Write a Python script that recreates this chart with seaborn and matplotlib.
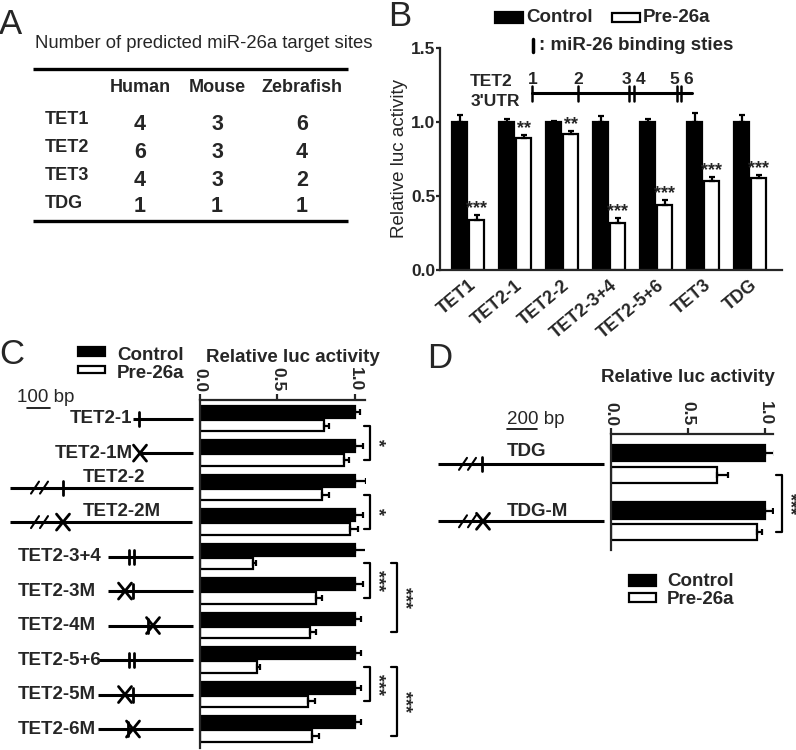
import numpy as np
import pandas as pd
import matplotlib
matplotlib.use("Agg")
import matplotlib.pyplot as plt
from matplotlib.patches import Rectangle
import seaborn as sns

W, H = 796, 750

# ---- panel A: predicted target sites
species = ["Human", "Mouse", "Zebrafish"]
genes_a = ["TET1", "TET2", "TET3", "TDG"]
site_counts = [[4, 3, 6], [6, 3, 4], [4, 3, 2], [1, 1, 1]]

# ---- panel B: 3'UTR reporters
genes_b = ["TET1", "TET2-1", "TET2-2", "TET2-3+4", "TET2-5+6", "TET3", "TDG"]
ctrl_b = [1.0, 1.0, 1.0, 1.0, 1.0, 1.0, 1.0]
ctrl_b_err = [0.05, 0.02, 0.01, 0.04, 0.02, 0.06, 0.05]
pre_b = [0.34, 0.89, 0.92, 0.32, 0.44, 0.60, 0.62]
pre_b_err = [0.03, 0.02, 0.02, 0.03, 0.03, 0.03, 0.02]
stars_b = ["***", "**", "**", "***", "***", "***", "***"]
utr_site_labels = ["1", "2", "3", "4", "5", "6"]

# ---- panel C: TET2 site mutants
constructs_c = ["TET2-1", "TET2-1M", "TET2-2", "TET2-2M", "TET2-3+4",
                "TET2-3M", "TET2-4M", "TET2-5+6", "TET2-5M", "TET2-6M"]
ctrl_c = [1.0, 1.0, 1.0, 1.0, 1.0, 1.0, 1.0, 1.0, 1.0, 1.0]
ctrl_c_err = [0.03, 0.05, 0.07, 0.05, 0.09, 0.05, 0.04, 0.04, 0.04, 0.04]
pre_c = [0.80, 0.93, 0.785, 0.97, 0.34, 0.75, 0.71, 0.37, 0.70, 0.72]
pre_c_err = [0.03, 0.03, 0.05, 0.05, 0.02, 0.04, 0.04, 0.02, 0.04, 0.05]
# (row a, row b, label, bracket level)
comparisons_c = [(0, 1, "*", 0), (2, 3, "*", 0), (4, 5, "***", 0),
                 (4, 6, "***", 1), (7, 8, "***", 0), (7, 9, "***", 1)]

# ---- panel D: TDG site mutant
constructs_d = ["TDG", "TDG-M"]
ctrl_d = [1.0, 1.0]
ctrl_d_err = [0.065, 0.05]
pre_d = [0.69, 0.95]
pre_d_err = [0.07, 0.03]
comparisons_d = [(0, 1, "***", 0)]

GROUPS = ["Control", "Pre-26a"]
PAL = {"Control": "black", "Pre-26a": "white"}

sns.set_style("ticks")
plt.rcParams["font.family"] = ["Liberation Sans", "DejaVu Sans"]
plt.rcParams["axes.linewidth"] = 1.6


def long_df(names, ctrl, pre):
    n = len(names)
    return pd.DataFrame({
        "construct": list(names) * 2,
        "group": ["Control"] * n + ["Pre-26a"] * n,
        "value": list(ctrl) + list(pre),
    })


def px_axes(fig, l, t, r, b):
    return fig.add_axes([l / W, 1 - b / H, (r - l) / W, (b - t) / H])


def to_px(ax, x, y):
    dx, dy = ax.transData.transform((x, y))
    return dx, H - dy


fig = plt.figure(figsize=(W / 100, H / 100), dpi=100)

# ---------------- B
ax_b = px_axes(fig, 440, 48, 782, 270)
sns.barplot(data=long_df(genes_b, ctrl_b, pre_b), x="construct", y="value",
            hue="group", hue_order=GROUPS, palette=PAL, width=0.72, gap=0.1,
            errorbar=None, edgecolor="black", linewidth=1.6, legend=False, ax=ax_b)
for cont, errs in zip(ax_b.containers, [ctrl_b_err, pre_b_err]):
    for bar, e in zip(cont, errs):
        xc = bar.get_x() + bar.get_width() / 2
        ax_b.errorbar(xc, bar.get_height(), yerr=[[0], [e]], fmt="none",
                      ecolor="black", elinewidth=1.6, capsize=2.5, capthick=1.6)
for bar, e, s in zip(ax_b.containers[1], pre_b_err, stars_b):
    xc = bar.get_x() + bar.get_width() / 2
    ax_b.text(xc, bar.get_height() + e + 0.045, s, ha="center", va="center",
              fontsize=13, fontweight="bold")
ax_b.set_xlim(-0.6, 6.68)
ax_b.set_ylim(0, 1.5)
ax_b.set_yticks([0, 0.5, 1.0, 1.5])
ax_b.set_yticklabels(["0.0", "0.5", "1.0", "1.5"], fontweight="bold", fontsize=12.5)
ax_b.tick_params(axis="y", width=1.6, length=3, pad=0.5)
ax_b.tick_params(axis="x", length=0, pad=5)
ax_b.set_xticks(range(len(genes_b)))
ax_b.set_xticklabels(genes_b, rotation=40, ha="right", va="top",
                     rotation_mode="anchor", fontweight="bold", fontsize=13)
ax_b.set_xlabel("")
ax_b.set_ylabel("Relative luc activity", fontsize=13.5, labelpad=2)
sns.despine(ax=ax_b)


def hbar_panel(ax, names, ctrl, ctrl_err, pre, pre_err, width, gap, xmax, ylim):
    sns.barplot(data=long_df(names, ctrl, pre), y="construct", x="value",
                hue="group", hue_order=GROUPS, palette=PAL, orient="h",
                width=width, gap=gap, errorbar=None, edgecolor="black",
                linewidth=1.6, legend=False, ax=ax)
    for cont, errs in zip(ax.containers, [ctrl_err, pre_err]):
        for bar, e in zip(cont, errs):
            yc = bar.get_y() + bar.get_height() / 2
            ax.errorbar(bar.get_width(), yc, xerr=[[0], [e]], fmt="none",
                        ecolor="black", elinewidth=1.6, capsize=2.5, capthick=1.6)
    ax.set_xlim(0, xmax)
    ax.set_ylim(*ylim)
    ax.xaxis.tick_top()
    ax.set_xticks([0, 0.5, 1.0])
    ax.set_xticklabels(["0.0", "0.5", "1.0"], rotation=-90, fontweight="bold",
                       fontsize=12.5, ha="center", va="bottom")
    ax.tick_params(axis="x", width=1.6, length=4, pad=2)
    ax.set_yticks([])
    ax.set_xlabel("")
    ax.set_ylabel("")
    for side in ["bottom", "right"]:
        ax.spines[side].set_visible(False)


# ---------------- C
ax_c = px_axes(fig, 200, 400, 365, 748)
hbar_panel(ax_c, constructs_c, ctrl_c, ctrl_c_err, pre_c, pre_c_err,
           0.8, 0.15, 1.065, (9.55, -0.54))

# ---------------- D
ax_d = px_axes(fig, 611, 434, 773, 550)
hbar_panel(ax_d, constructs_d, ctrl_d, ctrl_d_err, pre_d, pre_d_err,
           0.75, 0.25, 1.052, (1.5, -0.52))

# ---------------- overlay in pixel coordinates
ov = fig.add_axes([0, 0, 1, 1])
ov.set_xlim(0, W)
ov.set_ylim(H, 0)
ov.axis("off")
ov.patch.set_alpha(0)
ov.set_zorder(5)

BOLD = dict(fontweight="bold", fontsize=13.5)

# panel letters
for letter, x, y in [("A", -1, 25), ("B", 388, 16), ("C", -1, 355), ("D", 427, 358)]:
    ov.text(x, y, letter, fontsize=25, ha="left", va="center")

# A table
ov.text(35, 43, "Number of predicted miR-26a target sites", fontsize=13.3,
        ha="left", va="center")
col_x = [140, 217, 302]
row_y = [120, 148, 176, 203]
ov.plot([33, 348], [69, 69], color="black", lw=2.4, solid_capstyle="butt")
ov.plot([33, 348], [221, 221], color="black", lw=2.4, solid_capstyle="butt")
for sp, x in zip(species, col_x):
    ov.text(x, 87, sp, ha="center", va="center", fontweight="bold", fontsize=13)
for g, y, counts in zip(genes_a, row_y, site_counts):
    ov.text(45, y, g, ha="left", va="center", fontweight="bold", fontsize=13)
    for x, c in zip(col_x, counts):
        ov.text(x, y + 4, str(c), ha="center", va="center", fontweight="bold", fontsize=15.5)


def legend_box(x, y, w, h, filled):
    ov.add_patch(Rectangle((x, y), w, h, facecolor="black" if filled else "white",
                           edgecolor="black", lw=1.6))


# B legend and UTR scheme
legend_box(495, 12, 28, 11, True)
ov.text(526, 17.5, "Control", ha="left", va="center", **BOLD)
legend_box(612, 13, 28, 9, False)
ov.text(643, 17.5, "Pre-26a", ha="left", va="center", **BOLD)
ov.plot([533, 533], [39, 52], color="black", lw=2.5)
ov.text(539, 45.5, ": miR-26 binding sties", ha="left", va="center", **BOLD)
ov.text(470, 82, "TET2", ha="left", va="center", fontweight="bold", fontsize=12.5)
ov.text(471, 102, "3'UTR", ha="left", va="center", fontweight="bold", fontsize=12.5)
ov.plot([532, 692], [93, 93], color="black", lw=2.2)
for x in [532, 578, 629, 634, 677, 681]:
    ov.plot([x, x], [85.5, 100.5], color="black", lw=1.8)
for s, x in zip(utr_site_labels, [533, 578, 626, 641, 674, 688]):
    ov.text(x, 79, s, ha="center", va="center", fontweight="bold", fontsize=12.5)

# C / D legends and titles
legend_box(78, 347, 27, 9, True)
ov.text(117, 355, "Control", ha="left", va="center", **BOLD)
legend_box(78, 366, 27, 7, False)
ov.text(117, 373, "Pre-26a", ha="left", va="center", **BOLD)
ov.text(293, 357, "Relative luc activity", ha="center", va="center", **BOLD)

ov.text(688, 377, "Relative luc activity", ha="center", va="center", **BOLD)
legend_box(629, 575, 27, 11, True)
ov.text(667, 581, "Control", ha="left", va="center", **BOLD)
legend_box(629, 593, 27, 9, False)
ov.text(667, 599, "Pre-26a", ha="left", va="center", **BOLD)

# scale bars
ov.text(17, 398, "100 bp", ha="left", va="center", fontsize=13.5)
ov.plot([27, 50], [407.5, 407.5], color="black", lw=1.2)
ov.text(507, 420, "200 bp", ha="left", va="center", fontsize=13.5)
ov.plot([507, 537], [429, 429], color="black", lw=1.2)


def wt_site(x, y):
    ov.plot([x, x], [y - 7, y + 7], color="black", lw=2)


def mut_site(x, y):
    ov.plot([x - 6.5, x + 6.5], [y - 8, y + 8], color="black", lw=2)
    ov.plot([x - 6.5, x + 6.5], [y + 8, y - 8], color="black", lw=2)


def break_mark(x, y):
    for dx in [0, 9]:
        ov.plot([x + dx - 4, x + dx + 4], [y + 6, y - 6], color="black", lw=1.5)


# construct schematics: label x, label ha, label dy, line, sites, break
schem_c = [
    (132, "right", 0, (133, 193), [(139, "wt")], None),
    (133, "right", 0, (140, 193), [(140, "mut")], None),
    (83, "left", -10, (10, 193), [(63, "wt")], 35),
    (83, "left", -11, (10, 192), [(63, "mut")], 35),
    (18, "left", 0, (108, 193), [(129, "wt"), (134, "wt")], None),
    (18, "left", 0, (108, 193), [(125, "mut"), (133, "wt")], None),
    (18, "left", 0, (108, 193), [(148, "wt"), (153, "mut")], None),
    (18, "left", 0, (98, 193), [(129, "wt"), (134, "wt")], None),
    (18, "left", 0, (98, 193), [(125, "mut"), (133, "wt")], None),
    (18, "left", 0, (98, 193), [(128, "wt"), (133, "mut")], None),
]
schem_d = [
    (507, "left", -12, (438, 604), [(482, "wt")], 463),
    (507, "left", -10, (438, 604), [(483, "mut")], 463),
]


def draw_schemes(ax, names, schemes):
    for i, (name, (lx, ha, dy, (x0, x1), sites, brk)) in enumerate(zip(names, schemes)):
        _, y = to_px(ax, 0, i)
        ov.plot([x0, x1], [y, y], color="black", lw=2.2, solid_capstyle="butt")
        if brk is not None:
            break_mark(brk, y)
        for x, kind in sites:
            (wt_site if kind == "wt" else mut_site)(x, y)
        ov.text(lx, y + dy, name, ha=ha, va="center", **BOLD)


draw_schemes(ax_c, constructs_c, schem_c)
draw_schemes(ax_d, constructs_d, schem_d)


def brackets(ax, comps, xs):
    bars = ax.containers[1]
    for a, b, lab, lvl in comps:
        ya = bars[a].get_y() + bars[a].get_height() / 2
        yb = bars[b].get_y() + bars[b].get_height() / 2
        _, y1 = to_px(ax, 0, ya)
        _, y2 = to_px(ax, 0, yb)
        x = xs[lvl]
        ov.plot([x - 6, x, x, x - 6], [y1, y1, y2, y2], color="black", lw=1.6)
        ov.text(x + 7, (y1 + y2) / 2, lab, rotation=-90, ha="center", va="center",
                fontsize=13, fontweight="bold")


brackets(ax_c, comparisons_c, [370, 397])
brackets(ax_d, comparisons_d, [782])

fig.savefig("out.png", dpi=100)
